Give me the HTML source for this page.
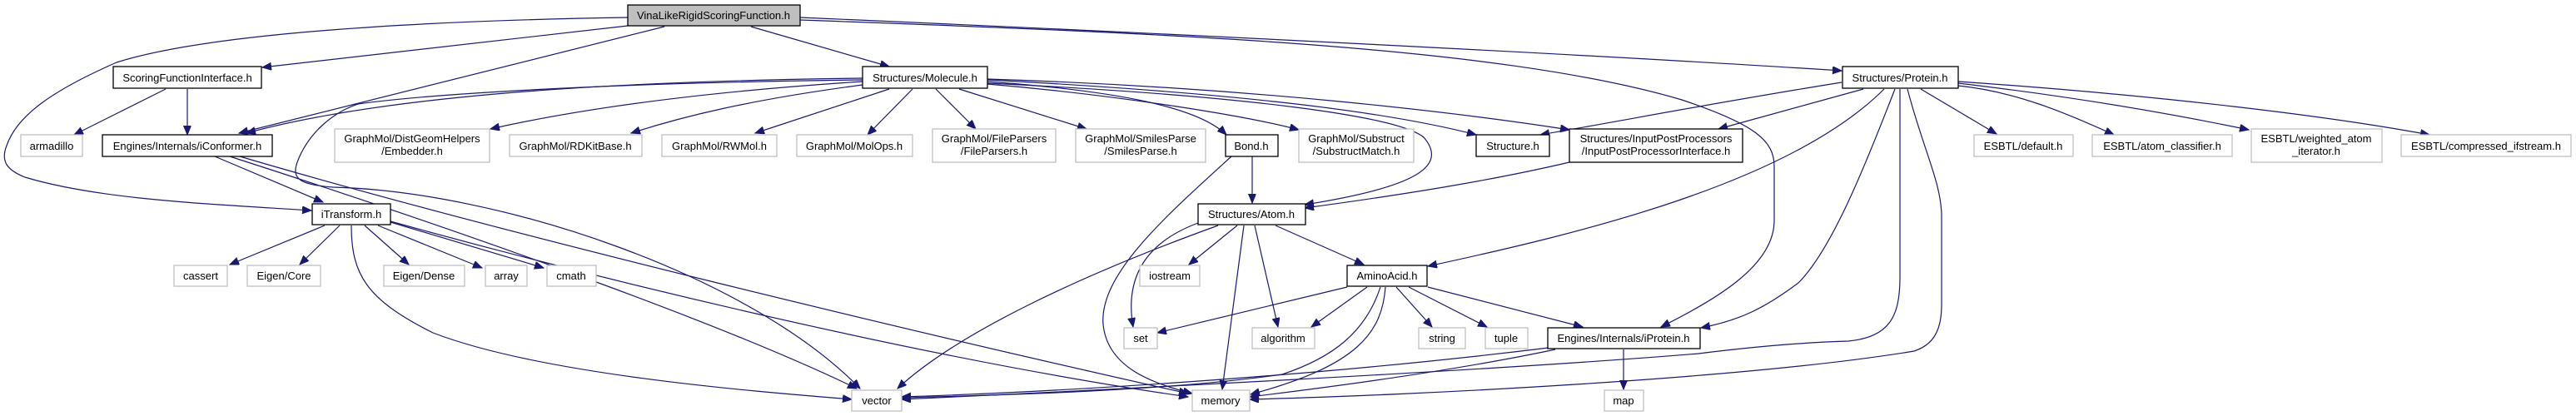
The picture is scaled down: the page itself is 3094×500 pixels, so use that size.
<!DOCTYPE html>
<html><head><meta charset="utf-8"><style>
html,body{margin:0;padding:0;background:#fff;}
svg{display:block;}
text{font-family:"Liberation Sans",Arial,sans-serif;font-size:13px;fill:#000;text-anchor:middle;}
.g{fill:#fff;stroke:#bfbfbf;stroke-width:1.3;}
.b{fill:#fff;stroke:#000;stroke-width:1.3;}
.e{fill:none;stroke:#191970;stroke-width:1.2;}
</style></head><body>
<svg width="3094" height="500" viewBox="0 0 3094 500" xmlns="http://www.w3.org/2000/svg">
<defs><marker id="a" markerUnits="userSpaceOnUse" markerWidth="12" markerHeight="10" refX="11" refY="4.5" orient="auto"><path d="M0,0 L11,4.5 L0,9 z" fill="#191970" stroke="#191970"/></marker></defs>
<g marker-end="url(#a)">
<!-- root edges -->
<path class="e" d="M754,21 C500,25 250,40 140,75 C60,110 20,140 8,175 C0,195 10,205 30,213 C120,240 250,245 374,253"/>
<path class="e" d="M754,31 L315,81"/>
<path class="e" d="M798,32 L287,160"/>
<path class="e" d="M902,32 L1068,80"/>
<path class="e" d="M961,21 C1400,40 1900,65 2212,85"/>
<path class="e" d="M961,24 C1400,40 1800,55 2020,120 C2110,150 2131,170 2131,200 L2131,265 C2131,320 2060,360 1995,393"/>
<!-- ScoringFunctionInterface -->
<path class="e" d="M199,107 L89,162"/>
<path class="e" d="M225,107 L225,162"/>
<!-- Molecule -->
<path class="e" d="M1036,94 C700,98 450,118 296,160"/>
<path class="e" d="M1036,98 C850,110 700,130 589,155"/>
<path class="e" d="M1036,102 C900,120 820,140 758,160"/>
<path class="e" d="M1068,107 L907,160"/>
<path class="e" d="M1096,107 L1042,162"/>
<path class="e" d="M1124,107 L1172,155"/>
<path class="e" d="M1152,107 L1305,155"/>
<path class="e" d="M1186,98 C1350,110 1440,130 1473,162"/>
<path class="e" d="M1186,101 C1350,115 1500,140 1560,156"/>
<path class="e" d="M1186,96 C1450,110 1650,130 1773,162"/>
<path class="e" d="M1186,95 C1500,105 1750,135 1885,156"/>
<path class="e" d="M1186,100 C1500,115 1680,140 1710,165 C1740,200 1700,225 1567,246"/>
<path class="e" d="M1036,96 C700,100 500,115 430,125 C400,135 370,160 357,195 C350,215 360,222 400,225 C600,230 900,330 1033,467"/>
<!-- iConformer -->
<path class="e" d="M258,188 L388,243"/>
<path class="e" d="M276,188 C500,260 850,380 1029,467"/>
<path class="e" d="M288,188 C600,280 1100,400 1427,473"/>
<!-- iTransform -->
<path class="e" d="M390,271 L276,318"/>
<path class="e" d="M408,271 L360,318"/>
<path class="e" d="M438,271 L491,318"/>
<path class="e" d="M454,271 L579,322"/>
<path class="e" d="M469,267 L653,322"/>
<path class="e" d="M422,271 C422,330 440,360 520,400 C650,450 900,470 1023,480"/>
<path class="e" d="M469,266 C700,330 1100,430 1427,477"/>
<!-- Bond -->
<path class="e" d="M1504,188 L1504,244"/>
<path class="e" d="M1479,188 C1400,260 1320,330 1325,390 C1330,440 1380,460 1432,473"/>
<!-- Atom -->
<path class="e" d="M1486,271 L1428,318"/>
<path class="e" d="M1439,268 C1380,290 1350,330 1361,393"/>
<path class="e" d="M1507,271 L1535,393"/>
<path class="e" d="M1532,271 L1638,318"/>
<path class="e" d="M1494,271 L1468,468"/>
<path class="e" d="M1463,271 C1300,330 1150,400 1078,467"/>
<!-- InputPostProcessor -->
<path class="e" d="M1885,195 C1800,215 1700,232 1567,250"/>
<!-- AminoAcid -->
<path class="e" d="M1618,345 L1390,400"/>
<path class="e" d="M1642,345 L1575,393"/>
<path class="e" d="M1677,345 L1720,393"/>
<path class="e" d="M1692,345 L1786,393"/>
<path class="e" d="M1715,345 L1901,393"/>
<path class="e" d="M1658,345 C1640,400 1600,430 1540,450 C1400,470 1200,475 1083,478"/>
<path class="e" d="M1664,345 C1660,400 1630,440 1502,474"/>
<!-- iProtein -->
<path class="e" d="M1950,420 L1950,468"/>
<path class="e" d="M1860,418 C1600,450 1300,470 1083,477"/>
<path class="e" d="M1868,420 C1750,445 1600,465 1501,477"/>
<!-- Protein -->
<path class="e" d="M2212,99 C2050,125 1950,145 1850,162"/>
<path class="e" d="M2238,107 L2064,155"/>
<path class="e" d="M2263,107 C2150,220 1900,280 1715,320"/>
<path class="e" d="M2276,107 C2240,200 2200,300 2160,340 C2120,370 2090,385 2043,394"/>
<path class="e" d="M2282,107 L2282,333 C2282,380 2270,405 2220,410 C2150,412 2080,420 2040,425 C1800,445 1300,470 1083,480"/>
<path class="e" d="M2291,107 C2310,180 2332,220 2332,260 L2332,367 C2332,400 2320,415 2299,422 C2100,455 1700,475 1501,480"/>
<path class="e" d="M2307,107 L2398,161"/>
<path class="e" d="M2352,103 C2420,110 2480,135 2539,162"/>
<path class="e" d="M2352,100 C2480,115 2600,135 2701,156"/>
<path class="e" d="M2352,98 C2600,115 2800,140 2918,162"/>
</g>
<!-- nodes -->
<rect x="754" y="6" width="207" height="25" fill="#bfbfbf" stroke="#000" stroke-width="1.3"/><text x="857" y="23">VinaLikeRigidScoringFunction.h</text>
<rect class="b" x="136" y="80" width="178" height="26"/><text x="225" y="98">ScoringFunctionInterface.h</text>
<rect class="b" x="1036" y="80" width="150" height="26"/><text x="1111" y="98">Structures/Molecule.h</text>
<rect class="b" x="2213" y="80" width="139" height="26"/><text x="2282" y="98">Structures/Protein.h</text>
<rect class="g" x="25" y="162" width="74" height="26"/><text x="62" y="180">armadillo</text>
<rect class="b" x="123" y="162" width="204" height="26"/><text x="225" y="180">Engines/Internals/iConformer.h</text>
<rect class="g" x="402" y="155" width="186" height="40"/><text x="495" y="171">GraphMol/DistGeomHelpers</text><text x="495" y="186">/Embedder.h</text>
<rect class="g" x="612" y="162" width="159" height="26"/><text x="691" y="180">GraphMol/RDKitBase.h</text>
<rect class="g" x="795" y="162" width="138" height="26"/><text x="864" y="180">GraphMol/RWMol.h</text>
<rect class="g" x="957" y="162" width="139" height="26"/><text x="1026" y="180">GraphMol/MolOps.h</text>
<rect class="g" x="1120" y="155" width="148" height="40"/><text x="1194" y="171">GraphMol/FileParsers</text><text x="1194" y="186">/FileParsers.h</text>
<rect class="g" x="1292" y="155" width="156" height="40"/><text x="1370" y="171">GraphMol/SmilesParse</text><text x="1370" y="186">/SmilesParse.h</text>
<rect class="b" x="1472" y="162" width="63" height="26"/><text x="1503" y="180">Bond.h</text>
<rect class="g" x="1560" y="155" width="138" height="40"/><text x="1629" y="171">GraphMol/Substruct</text><text x="1629" y="186">/SubstructMatch.h</text>
<rect class="b" x="1773" y="162" width="88" height="26"/><text x="1817" y="180">Structure.h</text>
<rect class="b" x="1885" y="155" width="208" height="40"/><text x="1989" y="171">Structures/InputPostProcessors</text><text x="1989" y="186">/InputPostProcessorInterface.h</text>
<rect class="g" x="2371" y="162" width="119" height="26"/><text x="2430" y="180">ESBTL/default.h</text>
<rect class="g" x="2513" y="162" width="168" height="26"/><text x="2597" y="180">ESBTL/atom_classifier.h</text>
<rect class="g" x="2704" y="155" width="157" height="40"/><text x="2782" y="171">ESBTL/weighted_atom</text><text x="2782" y="186">_iterator.h</text>
<rect class="g" x="2884" y="162" width="204" height="26"/><text x="2986" y="180">ESBTL/compressed_ifstream.h</text>
<rect class="b" x="375" y="245" width="94" height="25"/><text x="422" y="262">iTransform.h</text>
<rect class="b" x="1439" y="245" width="129" height="25"/><text x="1503" y="262">Structures/Atom.h</text>
<rect class="g" x="209" y="319" width="64" height="25"/><text x="241" y="336">cassert</text>
<rect class="g" x="297" y="319" width="88" height="25"/><text x="341" y="336">Eigen/Core</text>
<rect class="g" x="461" y="319" width="97" height="25"/><text x="509" y="336">Eigen/Dense</text>
<rect class="g" x="583" y="319" width="50" height="25"/><text x="608" y="336">array</text>
<rect class="g" x="657" y="319" width="59" height="25"/><text x="686" y="336">cmath</text>
<rect class="g" x="1369" y="319" width="72" height="25"/><text x="1405" y="336">iostream</text>
<rect class="b" x="1618" y="319" width="96" height="25"/><text x="1666" y="336">AminoAcid.h</text>
<rect class="g" x="1350" y="394" width="40" height="25"/><text x="1370" y="411">set</text>
<rect class="g" x="1504" y="394" width="75" height="25"/><text x="1541" y="411">algorithm</text>
<rect class="g" x="1704" y="394" width="56" height="25"/><text x="1732" y="411">string</text>
<rect class="g" x="1784" y="394" width="51" height="25"/><text x="1809" y="411">tuple</text>
<rect class="b" x="1859" y="394" width="183" height="25"/><text x="1950" y="411">Engines/Internals/iProtein.h</text>
<rect class="g" x="1023" y="469" width="60" height="25"/><text x="1053" y="486">vector</text>
<rect class="g" x="1432" y="469" width="69" height="25"/><text x="1466" y="486">memory</text>
<rect class="g" x="1927" y="469" width="47" height="25"/><text x="1950" y="486">map</text>
</svg>
</body></html>
